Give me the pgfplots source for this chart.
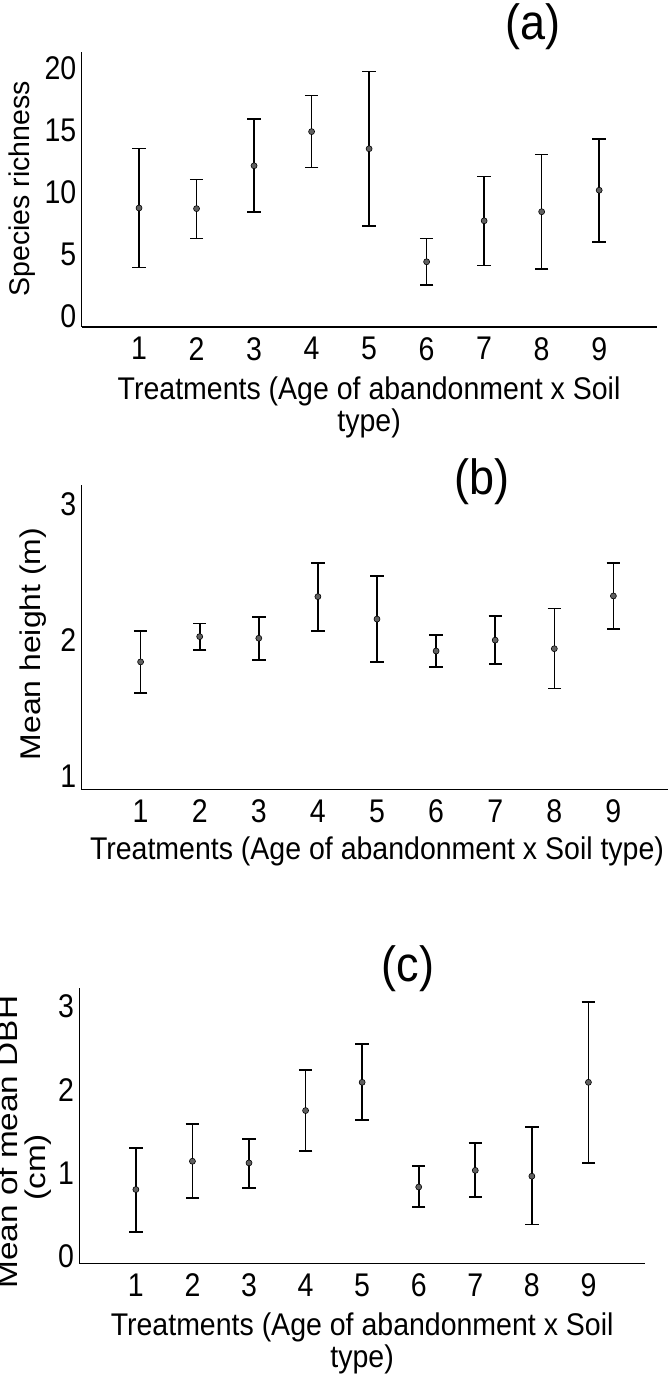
\documentclass[border=0pt]{standalone}
\usepackage{fontspec}
\setmainfont{Liberation Sans}
\usepackage{graphicx}
\usepackage{pgfplots}
\pgfplotsset{compat=1.18}
\usepackage{pgfplotstable}

\definecolor{ptfill}{HTML}{606060}

\pgfplotstableread{
x y lo hi
1 8.75 3.95 13.55
2 8.70 6.30 11.05
3 12.15 8.45 15.92
4 14.90 12.00 17.80
5 13.52 7.30 19.75
6 4.42 2.55 6.30
7 7.72 4.12 11.30
8 8.45 3.82 13.05
9 10.18 6.03 14.32
}\dataA

\pgfplotstableread{
x y lo hi
1 1.839 1.611 2.064
2 2.025 1.926 2.122
3 2.013 1.853 2.168
4 2.319 2.067 2.568
5 2.154 1.839 2.469
6 1.919 1.802 2.035
7 1.999 1.824 2.176
8 1.936 1.642 2.232
9 2.324 2.079 2.566
}\dataB

\pgfplotstableread{
x y lo hi
1 0.80 0.29 1.30
2 1.14 0.70 1.59
3 1.12 0.82 1.41
4 1.75 1.26 2.24
5 2.09 1.64 2.55
6 0.83 0.59 1.08
7 1.03 0.71 1.36
8 0.96 0.38 1.55
9 2.09 1.12 3.06
}\dataC

\newcommand{\fs}{\fontsize{28.5}{31}\selectfont}
\newcommand{\ft}{\fontsize{45}{50}\selectfont}
\newcommand{\tl}[1]{\scalebox{1}[1.15]{#1}}
\newcommand{\vt}[1]{\scalebox{1}[1.1]{#1}}

\pgfplotsset{
  panel/.style={
    scale only axis,
    anchor=south west,
    axis lines*=left,
    axis line style={line width=1.3pt, black},
    xmin=0, xmax=10,
    xtick={1,...,9},
    major tick length=0pt,
    tick style={draw=none},
    /pgf/number format/assume math mode=true,
    tick label style={font=\fs},
    xticklabel={\tl{\pgfmathprintnumber{\tick}}},
    yticklabel={\tl{\pgfmathprintnumber{\tick}}},
    xticklabel style={anchor=north, inner sep=0pt, yshift=-10pt},
    yticklabel style={anchor=east, inner sep=0pt, xshift=-5pt},
    label style={font=\fs},
    title style={font=\ft, anchor=center},
    clip=false,
  },
  ebar/.style={
    only marks, mark=*, mark size=3pt,
    mark options={fill=ptfill, draw=black, line width=0.6pt},
    error bars/.cd, y dir=both, y explicit,
    error bar style={line width=1.6pt, black},
    error mark options={rotate=90, mark size=6.7pt, line width=1.6pt, black},
  },
}

\begin{document}
\begin{tikzpicture}
% panel (a)
\begin{axis}[panel,
  at={(81.5pt,1049pt)}, width=575.2pt, height=275pt,
  ymin=-0.83, ymax=21.31, ytick={0,5,10,15,20},
  title={\vt{(a)}}, title style={at={(axis description cs:0.785,1.071)}},
  xlabel={\vt{\shortstack{Treatments (Age of abandonment x Soil\\type)}}},
  xlabel style={at={(axis description cs:0.5,-0.293)}, anchor=center},
  ylabel={Species richness},
  ylabel style={at={(axis description cs:-0.1026,0.502)}, anchor=center},
]
\addplot[ebar] table[x=x, y=y, y error plus expr=\thisrow{hi}-\thisrow{y}, y error minus expr=\thisrow{y}-\thisrow{lo}] {\dataA};
\end{axis}
% panel (b)
\begin{axis}[panel,
  at={(81.5pt,586.7pt)}, width=591pt, height=304.3pt,
  ymin=0.902, ymax=3.14, ytick={1,2,3},
  title={\vt{(b)}}, title style={at={(axis description cs:0.678,0.990)}},
  xlabel={\vt{Treatments (Age of abandonment x Soil type)}},
  xlabel style={at={(axis description cs:0.5,-0.203)}, anchor=center},
  ylabel={\scalebox{1.12}[1]{Mean height (m)}},
  ylabel style={at={(axis description cs:-0.0816,0.4775)}, anchor=center},
]
\addplot[ebar] table[x=x, y=y, y error plus expr=\thisrow{hi}-\thisrow{y}, y error minus expr=\thisrow{y}-\thisrow{lo}] {\dataB};
\end{axis}
% panel (c)
\begin{axis}[panel,
  at={(79.3pt,112.7pt)}, width=565.7pt, height=275.3pt,
  ymin=-0.088, ymax=3.225, ytick={0,1,2,3},
  title={\vt{(c)}}, title style={at={(axis description cs:0.581,1.047)}},
  xlabel={\vt{\shortstack{Treatments (Age of abandonment x Soil\\type)}}},
  xlabel style={at={(axis description cs:0.5,-0.291)}, anchor=center},
  ylabel={\scalebox{1.17}[1]{\shortstack{Mean of mean DBH\\[4pt](cm)\rule{43pt}{0pt}}}},
  ylabel style={at={(axis description cs:-0.0978,0.44)}, anchor=center},
]
\addplot[ebar] table[x=x, y=y, y error plus expr=\thisrow{hi}-\thisrow{y}, y error minus expr=\thisrow{y}-\thisrow{lo}] {\dataC};
\end{axis}
\pgfresetboundingbox
\useasboundingbox (0,0) rectangle (668pt,1376pt);
\end{tikzpicture}
\end{document}
